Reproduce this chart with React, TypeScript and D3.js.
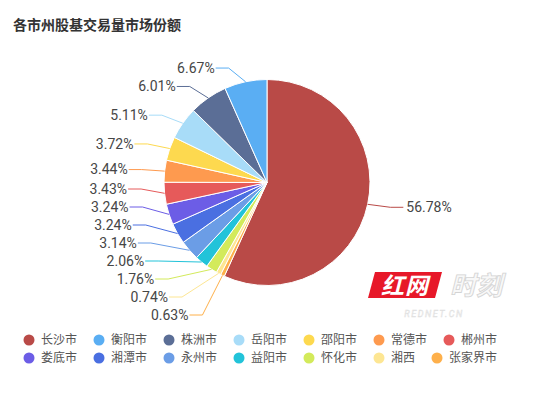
import React from 'react';
import * as d3 from 'd3';

const title = '各市州股基交易量市场份额';
const cities = ['长沙市', '衡阳市', '株洲市', '岳阳市', '邵阳市', '常德市', '郴州市', '娄底市', '湘潭市', '永州市', '益阳市', '怀化市', '湘西', '张家界市'];
const shares = [56.78, 6.67, 6.01, 5.11, 3.72, 3.44, 3.43, 3.24, 3.24, 3.14, 2.06, 1.76, 0.74, 0.63];
const colors = ['#b94a47', '#5aaef3', '#5b6e96', '#a8dcf8', '#fdd94f', '#fe9a4f', '#e65a5a', '#6c5de6', '#4a6fe1', '#6b9de6', '#22c3d9', '#d3ea5b', '#fde693', '#feb04b'];
const legendRows = [cities.slice(0, 7), cities.slice(7)];

const W = 536;
const H = 397;
const cx = 267;
const cy = 182.5;
const r = 103;
const len1 = 14;
const gap = 18;
const bottomBound = 315;
const topBound = 40;

type Item = { name: string; value: number; color: string };

export default function App() {
  const items: Item[] = cities.map((c, i) => ({ name: c, value: shares[i], color: colors[i] }));
  // first slice clockwise from 12 o'clock, then the rest continuing from the smallest
  const ordered = [items[0], ...items.slice(1).reverse()];
  const pie = d3.pie<Item>().sort(null).value((d) => d.value);
  const arcs = pie(ordered);
  const arc = d3.arc<d3.PieArcDatum<Item>>().innerRadius(0).outerRadius(r);

  const R1 = r + len1;
  type Lab = { d: d3.PieArcDatum<Item>; a: number; y: number; side: number; ex: number; ey: number; nx: number };
  const labs: Lab[] = arcs.map((d) => {
    const a = (d.startAngle + d.endAngle) / 2;
    const side = Math.sin(a) < 0 ? -1 : 1;
    return { d, a, side, y: cy - R1 * Math.cos(a), ex: cx + r * Math.sin(a), ey: cy - r * Math.cos(a), nx: 0 };
  });

  [-1, 1].forEach((side) => {
    const list = labs.filter((l) => l.side === side).sort((p, q) => p.y - q.y);
    for (let i = 1; i < list.length; i++) list[i].y = Math.max(list[i].y, list[i - 1].y + gap);
    if (list.length && list[list.length - 1].y > bottomBound) {
      list[list.length - 1].y = bottomBound;
      for (let i = list.length - 2; i >= 0; i--) list[i].y = Math.min(list[i].y, list[i + 1].y - gap);
    }
    if (list.length && list[0].y < topBound) {
      list[0].y = topBound;
      for (let i = 1; i < list.length; i++) list[i].y = Math.max(list[i].y, list[i - 1].y + gap);
    }
    const semis = [list.filter((l) => l.y <= cy), list.filter((l) => l.y > cy)];
    semis.forEach((semi) => {
      if (!semi.length) return;
      let maxL = semi[0];
      semi.forEach((l) => {
        if (Math.abs(l.y - cy) >= Math.abs(maxL.y - cy)) maxL = l;
      });
      const dy = Math.abs(maxL.y - cy);
      const dxo = R1 * Math.abs(Math.sin(maxL.a)) + 5;
      const rB = dxo < R1 ? dy / Math.sqrt(1 - (dxo * dxo) / (R1 * R1)) : R1;
      semi.forEach((l) => {
        const ddy = Math.abs(l.y - cy);
        const dx = R1 * Math.sqrt(Math.max(0, 1 - (ddy * ddy) / (rB * rB)));
        l.nx = cx + side * (dx + 9);
      });
    });
  });

  const charW = 12;
  const iconW = 14;
  const itemGap = 15;
  const legendLeft = 22;
  const legendY = [340, 358];

  return (
    <svg width={W} height={H} style={{ position: 'absolute', left: 0, top: 0, background: '#fff' }} fontFamily="Roboto, 'Noto Sans', sans-serif">
      <text x={13} y={30} fontSize={14} fontWeight="bold" fill="#333" fontFamily="'Noto Sans CJK SC', sans-serif">{title}</text>
      <g transform={`translate(${cx},${cy})`}>
        {arcs.map((d, i) => (
          <path key={i} d={arc(d) || ''} fill={d.data.color} stroke="#fff" strokeWidth={1} strokeLinejoin="round" />
        ))}
      </g>
      <g>
        {labs.map((l, i) => {
          const hx = l.nx + (l.side < 0 ? -13 : 13);
          const tx = l.side < 0 ? l.nx - 14 : l.nx + 16;
          return (
            <g key={i}>
              <polyline points={`${l.ex},${l.ey} ${l.nx},${l.y} ${hx},${l.y}`} fill="none" stroke={l.d.data.color} strokeWidth={1} />
              <text x={tx} y={l.y} dy="0.35em" fontSize={14} fill="#464646" textAnchor={l.side < 0 ? 'end' : 'start'}>
                {l.d.data.value.toFixed(2)}%
              </text>
            </g>
          );
        })}
      </g>
      <g fontFamily="'Noto Sans CJK SC', sans-serif">
        {legendRows.map((row, ri) => {
          let x = legendLeft;
          return row.map((name) => {
            const idx = cities.indexOf(name);
            const x0 = x;
            x += iconW + 5 + name.length * charW + itemGap;
            return (
              <g key={name}>
                <circle cx={x0 + iconW / 2} cy={legendY[ri]} r={5.5} fill={colors[idx]} />
                <text x={x0 + iconW + 5} y={legendY[ri]} dy="0.36em" fontSize={12} fill="#555">{name}</text>
              </g>
            );
          });
        })}
      </g>
      <g transform="translate(368,272)" opacity={0.9}>
        <polygon points="7,0 74,0 67,26 0,26" fill="#e50012" />
        <text x={37} y={22} fontSize={23} fontWeight="bold" fontStyle="italic" fill="#fff" textAnchor="middle" fontFamily="'Noto Sans CJK SC', sans-serif" letterSpacing={1}>红网</text>
        <text x={108} y={23} fontSize={26} fontWeight="bold" fontStyle="italic" fill="#f8f8f8" stroke="#cfcfcf" strokeWidth={0.8} textAnchor="middle" fontFamily="'Noto Sans CJK SC', sans-serif">时刻</text>
        <text x={66} y={45} fontSize={9} fill="#f2f2f2" stroke="#dcdcdc" strokeWidth={0.4} textAnchor="middle" letterSpacing={1.5} fontStyle="italic">REDNET.CN</text>
      </g>
    </svg>
  );
}
